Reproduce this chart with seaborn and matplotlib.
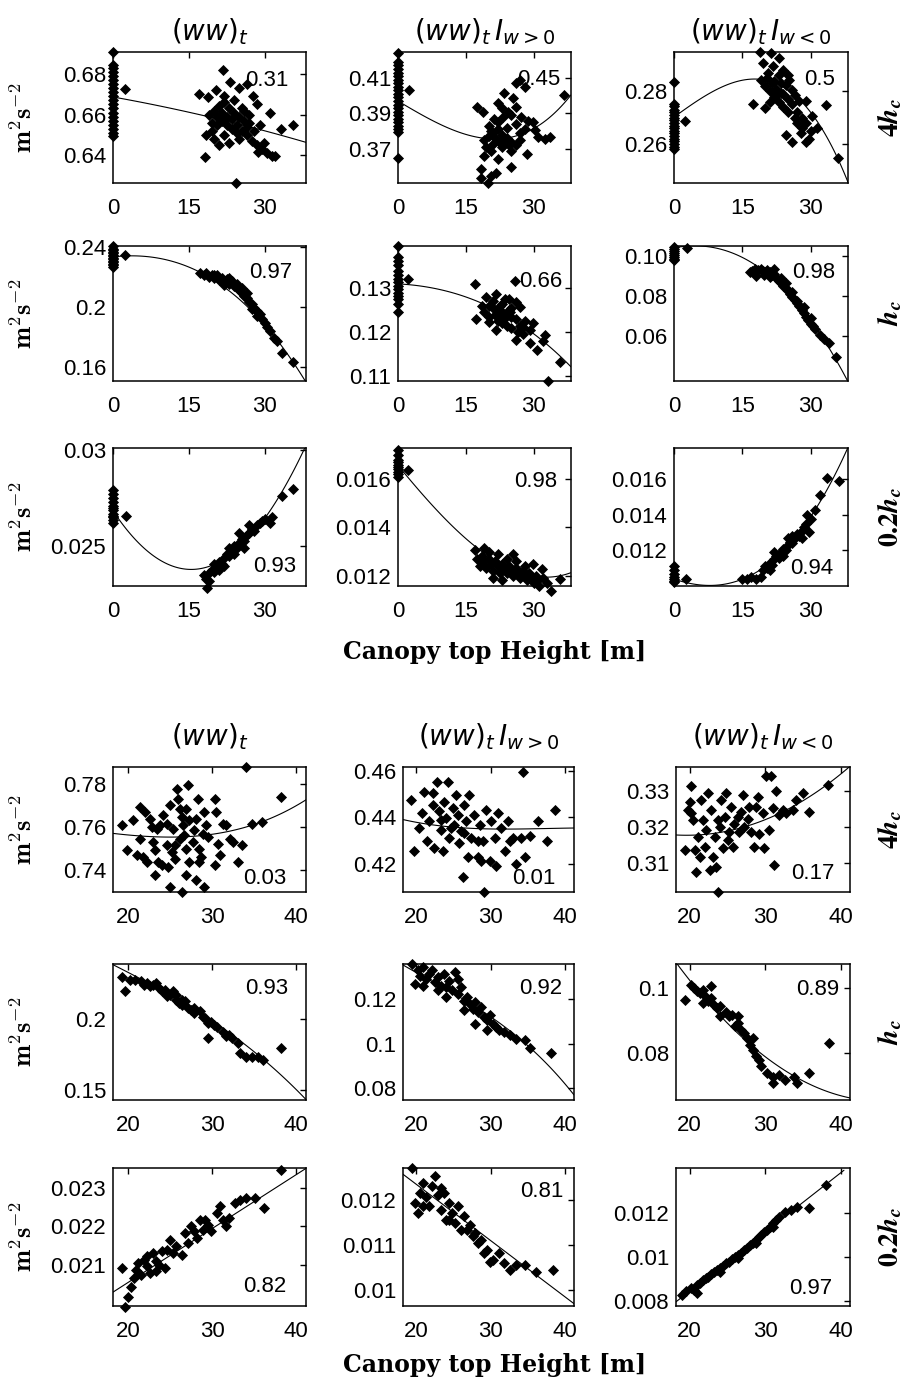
"""
Canopy-top-height dependence of (ww)_t at three levels, two sites.
18 small scatter panels with fitted curves.
"""

import matplotlib
matplotlib.use("Agg")
import matplotlib.pyplot as plt
import seaborn as sns
import pandas as pd

# ---------------------------------------------------------------------
# data: (canopy top height [m], value [m2 s-2])
# up_* = upper block (with zero-height points), lo_* = lower block
# ww = (ww)_t, wp = (ww)_t I_w>0, wn = (ww)_t I_w<0
# 4h / h / 02h = measurement level 4hc, hc, 0.2hc
# *_fit = points read along the fitted curve
# ---------------------------------------------------------------------

up_ww_4h = [(0, 0.691), (0, 0.6845), (0, 0.683), (0, 0.681), (0, 0.679), (0, 0.677), (0, 0.675),
            (0, 0.673), (0, 0.671), (0, 0.669), (0, 0.667), (0, 0.665), (0, 0.663), (0, 0.661),
            (0, 0.659), (0, 0.657), (0, 0.655), (0, 0.653), (0, 0.651), (0, 0.6495), (2.4, 0.6726),
            (21.7, 0.682), (23.2, 0.676), (26.5, 0.675), (24.9, 0.673), (17.1, 0.670), (18.9, 0.6685),
            (20.4, 0.672), (27.7, 0.669), (31.0, 0.661), (28.5, 0.665), (35.7, 0.655), (33.3, 0.653),
            (19, 0.660), (20, 0.662), (21, 0.664), (22, 0.666), (23, 0.663), (24, 0.661), (25, 0.659),
            (26, 0.657), (27, 0.656), (22.5, 0.659), (21.5, 0.657), (20.5, 0.655), (19.5, 0.652),
            (18.5, 0.650), (20, 0.648), (22, 0.650), (23.5, 0.653), (24.5, 0.655), (25.5, 0.652),
            (26.5, 0.650), (27.5, 0.647), (28.5, 0.645), (29.5, 0.643), (30.5, 0.641), (21, 0.645),
            (23, 0.646), (25, 0.648), (26, 0.662), (27, 0.660), (24, 0.667), (22, 0.669), (28, 0.652),
            (29, 0.655), (18.3, 0.639), (28.7, 0.6415), (31.5, 0.6395), (32.1, 0.6395), (29.9, 0.6458),
            (24.4, 0.6262), (21.5, 0.661), (23.5, 0.658), (20.5, 0.659), (22.5, 0.655), (24.5, 0.651),
            (26.5, 0.654), (19.5, 0.656), (25.5, 0.663)]
up_ww_4h_fit = [(0, 0.6686), (10, 0.664), (19, 0.659), (28, 0.653), (38.2, 0.6464)]

up_wp_4h = [(0, 0.4243), (0, 0.419), (0, 0.417), (0, 0.415), (0, 0.413), (0, 0.411), (0, 0.409),
            (0, 0.407), (0, 0.405), (0, 0.403), (0, 0.401), (0, 0.399), (0, 0.397), (0, 0.395),
            (0, 0.393), (0, 0.391), (0, 0.389), (0, 0.387), (0, 0.385), (0, 0.383), (0, 0.381),
            (0, 0.3795), (0, 0.365), (2.5, 0.403),
            (17.5, 0.3938), (18.7, 0.391), (21.3, 0.387), (22.0, 0.3957), (23.5, 0.4014), (26.1, 0.4071),
            (26.9, 0.409), (28.0, 0.405), (25.4, 0.3986), (26.1, 0.3938), (23.1, 0.388), (24.3, 0.391),
            (27.2, 0.388), (28.7, 0.386), (29.9, 0.385), (31.0, 0.3767), (32.5, 0.3757), (33.6, 0.3767),
            (36.6, 0.4005), (30.2, 0.3805), (20.5, 0.369), (19.0, 0.366), (18.3, 0.3586), (21.6, 0.3567),
            (20.5, 0.3548), (18.3, 0.3538), (19.8, 0.351), (25.0, 0.360), (28.4, 0.3671), (22.0, 0.3643),
            (22.8, 0.3729), (19, 0.375), (20, 0.377), (21, 0.379), (22, 0.381), (23, 0.378), (24, 0.376),
            (25, 0.374), (26, 0.372), (27, 0.375), (21, 0.373), (23, 0.371), (25, 0.369), (24, 0.382),
            (26, 0.384), (22, 0.385), (20, 0.383), (19.5, 0.371), (27, 0.379), (28, 0.381), (25, 0.389),
            (23, 0.393), (21.5, 0.376), (22.5, 0.374), (23.5, 0.375), (24.5, 0.372), (20.5, 0.380)]
up_wp_4h_fit = [(0, 0.3967), (5, 0.390), (10, 0.3833), (15, 0.3776), (20, 0.3757), (25, 0.3767),
                (30, 0.3814), (35, 0.3919), (38.2, 0.4000)]

up_wn_4h = [(0, 0.2835), (0, 0.2752), (0, 0.2745), (0, 0.273), (0, 0.272), (0, 0.271), (0, 0.270),
            (0, 0.269), (0, 0.268), (0, 0.267), (0, 0.266), (0, 0.265), (0, 0.264), (0, 0.263),
            (0, 0.262), (0, 0.261), (0, 0.260), (0, 0.259), (0, 0.258), (2.4, 0.2688),
            (18.8, 0.2949), (21.3, 0.2946), (23.1, 0.2927), (19.5, 0.2907), (21.7, 0.2894), (20.6, 0.2868),
            (19.1, 0.2842), (17.3, 0.2750), (19.9, 0.2737), (25.3, 0.2842), (26.0, 0.2803), (27.5, 0.2763),
            (29.0, 0.2763), (33.3, 0.2748), (30.4, 0.2705), (31.5, 0.2659), (35.9, 0.2548), (24.6, 0.2633),
            (26.0, 0.2607), (29.0, 0.2607), (29.7, 0.262), (27.9, 0.264), (20, 0.282), (21, 0.280),
            (22, 0.278), (23, 0.276), (24, 0.274), (25, 0.272), (22, 0.284), (23, 0.286), (24, 0.288),
            (21, 0.276), (22.5, 0.281), (24, 0.279), (25, 0.277), (26, 0.275), (26.5, 0.270), (27, 0.268),
            (28, 0.266), (23.5, 0.283), (20.5, 0.285), (25, 0.286), (27, 0.272), (28, 0.270), (29, 0.268),
            (30, 0.265), (21.5, 0.283), (22.5, 0.2785), (23.5, 0.2795), (24.5, 0.2825), (26.5, 0.2785)]
up_wn_4h_fit = [(0, 0.2692), (3, 0.2745), (6, 0.2785), (10, 0.2816), (14, 0.2833), (18, 0.2836),
                (22, 0.2825), (26, 0.2795), (30, 0.2728), (33, 0.2655), (36, 0.2535), (38.2, 0.2452)]

up_ww_h = [(0, 0.2405), (0, 0.239), (0, 0.238), (0, 0.237), (0, 0.236), (0, 0.235), (0, 0.234),
           (0, 0.233), (0, 0.232), (0, 0.231), (0, 0.230), (0, 0.229), (0, 0.228), (0, 0.227),
           (2.4, 0.2347), (17.3, 0.2225), (18, 0.221), (18.5, 0.2225), (19, 0.220), (19.5, 0.2215),
           (20, 0.2195), (20.5, 0.221), (21, 0.218), (21.5, 0.2195), (22, 0.217), (22.5, 0.2185),
           (23, 0.2155), (23.5, 0.217), (24, 0.214), (24.5, 0.2125), (25, 0.211), (25.5, 0.209),
           (26, 0.2075), (26.5, 0.206), (27, 0.2035), (27.5, 0.202), (28, 0.1995), (28.5, 0.1975),
           (29, 0.195), (29.5, 0.192), (30, 0.1895), (30.4, 0.1865), (31, 0.184), (31.8, 0.1795),
           (32.5, 0.1775), (33.4, 0.1690), (35.7, 0.1635), (24.5, 0.2155), (25.5, 0.2125), (26.5, 0.2095),
           (22, 0.2145), (27.5, 0.1985), (28.5, 0.194), (20, 0.2215), (23, 0.219)]
up_ww_h_fit = [(0, 0.234), (5, 0.2335), (10, 0.231), (15, 0.2265), (20, 0.219), (25, 0.207),
               (30, 0.1860), (35, 0.1650), (38.2, 0.1510)]

up_wp_h = [(0, 0.1396), (0, 0.1372), (0, 0.1362), (0, 0.1352), (0, 0.1340), (0, 0.1330), (0, 0.1322),
           (0, 0.1315), (0, 0.1305), (0, 0.1298), (0, 0.1290), (0, 0.1282), (0, 0.1275), (0, 0.1265),
           (0, 0.1246), (2.3, 0.1321), (17.1, 0.131), (25.8, 0.1316), (17.3, 0.1231), (19.5, 0.128),
           (21.7, 0.1287), (23.6, 0.1276), (26.1, 0.1269), (26.9, 0.1257), (24.7, 0.1246), (22.4, 0.1235),
           (20.2, 0.1224), (21.7, 0.1205), (26.1, 0.1182), (27.6, 0.1212), (29.1, 0.1205), (29.9, 0.122),
           (32.1, 0.1179), (32.4, 0.1194), (30.6, 0.116), (29.1, 0.1175), (35.8, 0.1132), (33.2, 0.1089),
           (20, 0.126), (21, 0.1255), (22, 0.125), (23, 0.1245), (24, 0.124), (25, 0.1235), (26, 0.123),
           (22, 0.1225), (23, 0.122), (24, 0.1215), (25, 0.121), (26.5, 0.120), (27, 0.1215), (28, 0.1225),
           (27.5, 0.1195), (21, 0.127), (23, 0.1265), (25, 0.1255), (24.5, 0.1275), (19, 0.1245),
           (20, 0.1235), (18.5, 0.126), (21.5, 0.1240), (22.5, 0.1260), (23.5, 0.1230), (24.5, 0.1250)]
up_wp_h_fit = [(0, 0.1311), (10, 0.1291), (18, 0.1269), (22, 0.1254), (26, 0.1227), (30, 0.119),
               (34, 0.116), (38.2, 0.1124)]

up_wn_h = [(0, 0.1045), (0, 0.1035), (0, 0.1025), (0, 0.1015), (0, 0.1005), (0, 0.0995), (0, 0.0985),
           (0, 0.0978), (2.8, 0.1041), (16.6, 0.0918), (17.2, 0.0925), (17.8, 0.0932), (18.4, 0.0928),
           (19, 0.0935), (19.5, 0.0925), (20, 0.0918), (20.5, 0.0928), (21, 0.092), (21.5, 0.0905),
           (22, 0.091), (22.5, 0.089), (23, 0.0875), (23.5, 0.0865), (24, 0.085), (24.5, 0.084),
           (25, 0.0825), (25.5, 0.081), (26, 0.0795), (26.5, 0.078), (27, 0.0765), (27.5, 0.075),
           (28, 0.073), (28.5, 0.0715), (29, 0.0695), (29.5, 0.068), (30, 0.066), (30.5, 0.065),
           (31, 0.0635), (32, 0.0605), (33, 0.0585), (34, 0.0565), (35.6, 0.0495), (19.8, 0.0905),
           (21, 0.0895), (22, 0.0935), (18, 0.090), (23.5, 0.089), (24.5, 0.0865), (26, 0.082),
           (27, 0.0775), (28.5, 0.0745), (30, 0.069)]
up_wn_h_fit = [(0, 0.1044), (5, 0.1042), (10.8, 0.1030), (15.9, 0.0980), (19.6, 0.0930), (23.2, 0.0865),
               (26.9, 0.0770), (29.8, 0.0675), (32.7, 0.0581), (35.6, 0.0482), (38.2, 0.0375)]

up_ww_02h = [(0, 0.0279), (0, 0.0277), (0, 0.0275), (0, 0.0273), (0, 0.0271), (0, 0.0269), (0, 0.0267),
             (0, 0.0265), (0, 0.02635), (0, 0.0262), (0, 0.0270), (0, 0.0266), (2.5, 0.0266),
             (18, 0.0235), (18.5, 0.0233), (19, 0.0236), (19.5, 0.0238), (20, 0.0237), (20.5, 0.0240),
             (21, 0.0242), (21.5, 0.0241), (22, 0.0244), (22.5, 0.0246), (23, 0.0245), (23.5, 0.0248),
             (24, 0.0250), (24.5, 0.0249), (25, 0.0252), (25.5, 0.0254), (26, 0.0253), (26.5, 0.0256),
             (27, 0.0257), (27.5, 0.0259), (28, 0.0258), (28.5, 0.0261), (29, 0.0262), (29.5, 0.0263),
             (30, 0.0264), (22, 0.0240), (23, 0.0249), (24, 0.0246), (25, 0.0257), (26, 0.0249),
             (27, 0.0261), (21, 0.0238), (20, 0.0241), (19, 0.0232), (18.7, 0.02285), (31.4, 0.0265),
             (33.5, 0.0276), (35.7, 0.02795), (31, 0.0262)]
up_ww_02h_fit = [(0, 0.0266), (2.1, 0.0262), (5.4, 0.0253), (8.8, 0.02455), (12.1, 0.0240), (15.4, 0.02366),
                 (18.1, 0.02362), (20, 0.0239), (25, 0.0251), (30, 0.02652), (33, 0.02786), (36, 0.02902),
                 (38.2, 0.0301)]

up_wp_02h = [(0, 0.0172), (0, 0.0170), (0, 0.0168), (0, 0.0167), (0, 0.0166), (0, 0.0165), (0, 0.0164),
             (0, 0.0163), (0, 0.0162), (0, 0.0161), (2.2, 0.01636), (17.1, 0.01307), (18.9, 0.01314),
             (25.4, 0.0129), (29.7, 0.0125), (31.9, 0.01229), (35.8, 0.01186), (33.7, 0.01136),
             (31.2, 0.01157), (17.5, 0.0127), (18, 0.0124), (18.5, 0.0128), (19, 0.0126), (19.5, 0.0123),
             (20, 0.0127), (20.5, 0.0125), (21, 0.0122), (21.5, 0.0126), (22, 0.0124), (22.5, 0.0121),
             (23, 0.0125), (23.5, 0.0123), (24, 0.0121), (24.5, 0.0124), (25, 0.0122), (25.5, 0.0120),
             (26, 0.0123), (26.5, 0.0121), (27, 0.0119), (27.5, 0.0122), (28, 0.0120), (28.5, 0.0118),
             (29, 0.0121), (29.5, 0.0119), (30, 0.0117), (30.5, 0.0120), (31, 0.0118), (32, 0.0119),
             (33, 0.0117), (22, 0.0129), (24, 0.0127), (26, 0.0126), (20, 0.0130), (28, 0.0124),
             (21, 0.0119), (23, 0.0118)]
up_wp_02h_fit = [(0, 0.0165), (5, 0.01557), (10, 0.0145), (15, 0.01343), (20, 0.01271), (25, 0.01229),
                 (30, 0.01203), (33, 0.0120), (38.2, 0.01207)]

up_wn_02h = [(0, 0.0111), (0, 0.0109), (0, 0.0107), (0, 0.0105), (0, 0.0104), (0, 0.0103), (0, 0.0102),
             (2.6, 0.01042), (15, 0.0104), (16, 0.0104), (17, 0.0105), (18, 0.0104), (19, 0.0105),
             (19.5, 0.0109), (20, 0.0111), (20.5, 0.0110), (21, 0.0113), (21.5, 0.0112), (22, 0.0115),
             (22.5, 0.0117), (23, 0.0116), (23.5, 0.0119), (24, 0.0121), (24.5, 0.0120), (25, 0.0123),
             (25.5, 0.0125), (26, 0.0124), (26.5, 0.0127), (27, 0.0129), (27.5, 0.0128), (28, 0.0131),
             (28.5, 0.0133), (29, 0.0135), (29.6, 0.01305), (29.2, 0.0140), (30, 0.0138), (31, 0.0143),
             (32.1, 0.0151), (33.6, 0.0161), (36.2, 0.0159), (22, 0.0119), (24, 0.0117), (26, 0.0128),
             (28, 0.0127), (21, 0.0109), (25, 0.0127)]
up_wn_02h_fit = [(0, 0.01038), (5, 0.0101), (8, 0.01004), (12, 0.01015), (15, 0.01038), (20, 0.01105),
                 (25, 0.01229), (30, 0.0139), (35, 0.0161), (38.2, 0.01780)]

lo_ww_4h = [(19.25, 0.7608), (19.84, 0.7492), (20.55, 0.7631), (21.42, 0.7692), (21.42, 0.7546),
            (21.03, 0.7469), (21.81, 0.7462), (22.21, 0.7438), (22.01, 0.7669), (22.6, 0.7638),
            (22.8, 0.760), (23.0, 0.7531), (23.2, 0.7492), (23.4, 0.7592), (23.8, 0.7608), (23.6, 0.7438),
            (24.0, 0.7423), (24.2, 0.7654), (24.6, 0.7615), (24.6, 0.7515), (25.0, 0.770), (25.2, 0.7485),
            (25.4, 0.7592), (25.6, 0.7454), (25.8, 0.7777), (26.0, 0.7731), (26.2, 0.7685), (26.4, 0.7646),
            (26.5, 0.7608), (26.9, 0.7685), (26.7, 0.7562), (26.9, 0.750), (27.1, 0.7792), (27.3, 0.7631),
            (27.3, 0.7438), (27.7, 0.7531), (27.9, 0.7585), (28.1, 0.7638), (28.3, 0.7731), (28.5, 0.750),
            (28.5, 0.7438), (28.7, 0.7462), (28.9, 0.7569), (29.1, 0.7669), (29.3, 0.7608), (29.5, 0.7554),
            (30.3, 0.7731), (30.5, 0.7669), (30.7, 0.7523), (30.9, 0.7469), (31.3, 0.7615), (31.7, 0.7608),
            (32.1, 0.7546), (32.5, 0.7531), (33.1, 0.7438), (33.6, 0.7515), (34.0, 0.7877), (34.8, 0.7615),
            (36.0, 0.7623), (38.2, 0.7738), (23.2, 0.7377), (25.0, 0.7323), (26.4, 0.730), (26.9, 0.7377),
            (28.1, 0.7354), (29.1, 0.7323), (30.3, 0.7423), (24.8, 0.7415), (25.6, 0.7515), (26.2, 0.7546)]
lo_ww_4h_fit = [(18.2, 0.7569), (21, 0.7562), (24, 0.7556), (27, 0.7554), (30, 0.7562), (32.5, 0.7585),
                (35, 0.7615), (37.5, 0.7648), (41.2, 0.7725)]

lo_wp_4h = [(19.23, 0.4474), (19.68, 0.4257), (20.36, 0.4355), (20.81, 0.4418), (21.04, 0.4510),
            (21.49, 0.4299), (21.72, 0.4383), (22.17, 0.4502), (22.17, 0.4453), (22.39, 0.4271),
            (22.84, 0.4552), (23.07, 0.4425), (23.30, 0.4348), (23.52, 0.4257), (23.75, 0.4467),
            (23.97, 0.4397), (24.20, 0.4552), (24.42, 0.4313), (24.88, 0.4439), (25.10, 0.4369),
            (25.33, 0.4495), (25.55, 0.4411), (25.78, 0.4292), (26.00, 0.4341), (26.46, 0.4453),
            (26.68, 0.4383), (26.91, 0.4229), (27.13, 0.4495), (27.36, 0.4313), (27.81, 0.4411),
            (28.26, 0.4229), (28.49, 0.4369), (28.71, 0.4215), (28.94, 0.4299), (29.39, 0.4432),
            (29.84, 0.4215), (30.07, 0.4383), (30.52, 0.4313), (30.97, 0.4418), (31.42, 0.4355),
            (31.87, 0.4257), (32.33, 0.4383), (32.55, 0.4299), (33.0, 0.4313), (33.45, 0.4201),
            (34.13, 0.4313), (34.36, 0.4594), (35.26, 0.4320), (36.39, 0.4383), (37.52, 0.4299),
            (38.65, 0.4432), (26.23, 0.4144), (29.16, 0.4081), (30.75, 0.4194), (34.58, 0.4229),
            (28.26, 0.4299), (24.65, 0.4355), (26.46, 0.4334), (23.30, 0.4390)]
lo_wp_4h_fit = [(18.2, 0.4390), (20, 0.4380), (22.5, 0.4366), (25, 0.4357), (28, 0.4352), (31, 0.4351),
                (34, 0.4351), (37, 0.4351), (39.3, 0.4351), (39.6, 0.4355), (41.2, 0.4355)]

lo_wn_4h = [(19.34, 0.3135), (19.78, 0.3247), (20.0, 0.3270), (20.22, 0.3312), (20.44, 0.3219),
            (20.88, 0.3074), (21.10, 0.3172), (21.32, 0.3116), (21.54, 0.3274), (21.76, 0.3219),
            (21.98, 0.3144), (22.2, 0.3191), (22.42, 0.3293), (22.64, 0.3079), (22.86, 0.3247),
            (23.08, 0.3116), (23.30, 0.3172), (23.52, 0.3088), (23.74, 0.3219), (23.96, 0.320),
            (24.18, 0.3274), (24.40, 0.3140), (24.62, 0.3228), (24.84, 0.3293), (25.05, 0.3163),
            (25.27, 0.3186), (25.49, 0.3256), (25.71, 0.3144), (25.93, 0.3209), (26.37, 0.3228),
            (26.59, 0.3186), (26.81, 0.3242), (27.03, 0.3288), (27.25, 0.320), (27.69, 0.3223),
            (27.91, 0.3256), (28.13, 0.3186), (28.57, 0.3144), (28.79, 0.3256), (29.01, 0.3284),
            (29.23, 0.3181), (29.67, 0.3237), (29.89, 0.3140), (30.11, 0.3340), (30.55, 0.3191),
            (30.77, 0.3340), (30.99, 0.3251), (31.21, 0.3093), (31.43, 0.3298), (31.87, 0.3233),
            (32.31, 0.3247), (32.75, 0.3237), (33.63, 0.3247), (34.07, 0.3274), (34.95, 0.3293),
            (35.82, 0.3242), (38.24, 0.3316), (23.74, 0.3019), (20.22, 0.3237), (20.66, 0.3135)]
lo_wn_4h_fit = [(18.2, 0.3177), (21, 0.3178), (24, 0.3184), (27, 0.3198), (30, 0.3220), (33, 0.3249),
                (36, 0.3286), (38.5, 0.3322), (41.2, 0.3368)]

lo_ww_h = [(19.33, 0.2293), (19.61, 0.2197), (20.17, 0.2274), (20.86, 0.2270), (21.56, 0.2263),
           (22.25, 0.2251), (22.60, 0.2228), (22.95, 0.2239), (23.65, 0.2216), (24.0, 0.2192),
           (24.35, 0.2204), (25.04, 0.2169), (25.39, 0.2192), (25.74, 0.2134), (26.08, 0.2110),
           (26.43, 0.2099), (26.78, 0.2122), (27.13, 0.2075), (27.47, 0.2063), (27.82, 0.2040),
           (28.52, 0.2052), (28.87, 0.2016), (29.22, 0.2005), (29.57, 0.1864), (29.91, 0.1981),
           (30.26, 0.1958), (30.61, 0.1946), (31.30, 0.1911), (32.0, 0.1887), (32.35, 0.1864),
           (33.04, 0.1829), (33.39, 0.1758), (34.09, 0.1735), (34.78, 0.1735), (35.48, 0.1735),
           (36.03, 0.1711), (38.26, 0.1793), (24.69, 0.2157), (25.74, 0.2169), (27.82, 0.2075),
           (26.43, 0.2134), (29.57, 0.1969), (31.65, 0.1876), (23.30, 0.2251), (21.91, 0.2239)]
lo_ww_h_fit = [(18.2, 0.2378), (22, 0.2265), (26, 0.2145), (30, 0.1975), (33, 0.1850), (35.5, 0.1750),
               (38.3, 0.1617), (41.2, 0.1425)]

lo_wp_h = [(19.38, 0.1355), (19.77, 0.1266), (20.16, 0.1326), (20.54, 0.1303), (20.93, 0.1340),
           (21.32, 0.1289), (21.71, 0.1311), (22.10, 0.1326), (22.49, 0.1274), (22.88, 0.1296),
           (23.27, 0.1259), (23.66, 0.1311), (24.05, 0.1252), (24.44, 0.1281), (24.82, 0.1237),
           (25.21, 0.1318), (25.60, 0.1222), (25.99, 0.1252), (26.38, 0.1192), (26.77, 0.1207),
           (27.16, 0.1178), (27.55, 0.1155), (27.94, 0.1185), (28.33, 0.1141), (28.72, 0.1163),
           (29.11, 0.1118), (29.49, 0.1104), (29.88, 0.1126), (30.27, 0.1089), (30.66, 0.1074),
           (31.05, 0.1059), (31.83, 0.1052), (32.61, 0.1037), (33.39, 0.1022), (34.55, 0.1015),
           (35.33, 0.0978), (38.05, 0.0956), (24.05, 0.1207), (25.60, 0.1289), (27.94, 0.1089),
           (29.49, 0.1059), (22.88, 0.1237), (20.93, 0.1259), (26.38, 0.1148)]
lo_wp_h_fit = [(18.2, 0.1345), (22, 0.1290), (26, 0.1210), (30, 0.1100), (33, 0.1040), (35.5, 0.0985),
               (38, 0.0905), (41.2, 0.0763)]

lo_wn_h = [(19.38, 0.0964), (20.16, 0.1010), (20.54, 0.1000), (20.93, 0.0990), (21.32, 0.0985),
           (21.71, 0.0995), (22.10, 0.0974), (22.49, 0.0959), (22.88, 0.0969), (23.27, 0.0949),
           (23.66, 0.0938), (24.05, 0.0944), (24.82, 0.0928), (25.21, 0.0913), (25.60, 0.0918),
           (26.38, 0.0892), (26.77, 0.0872), (27.16, 0.0861), (27.55, 0.0846), (27.94, 0.0826),
           (28.33, 0.0810), (28.72, 0.0790), (29.11, 0.0779), (29.49, 0.0759), (30.27, 0.0738),
           (31.05, 0.0728), (31.83, 0.0733), (32.61, 0.0718), (33.77, 0.0728), (35.72, 0.0738),
           (31.05, 0.0708), (34.16, 0.0708), (38.44, 0.0831), (21.71, 0.0954), (24.05, 0.0913),
           (26.38, 0.0913), (28.33, 0.0846), (22.88, 0.1005), (25.99, 0.0882)]
lo_wn_h_fit = [(18.0, 0.1074), (22, 0.0975), (25.6, 0.0905), (28.7, 0.0805), (31.8, 0.0738),
               (34.9, 0.0712), (38.1, 0.0690), (41.2, 0.0665)]

lo_ww_02h = [(19.33, 0.02091), (19.61, 0.01991), (20.03, 0.02017), (20.31, 0.02043), (20.72, 0.02065),
             (21.00, 0.02087), (21.21, 0.02104), (21.56, 0.02074), (21.91, 0.02113), (22.25, 0.02096),
             (22.60, 0.02078), (22.95, 0.0213), (23.30, 0.02109), (23.65, 0.0210), (24.0, 0.02135),
             (24.34, 0.02091), (24.69, 0.02139), (25.04, 0.02165), (25.73, 0.02148), (26.43, 0.02126),
             (26.78, 0.02183), (27.13, 0.02157), (27.47, 0.0220), (27.82, 0.02187), (28.17, 0.0217),
             (28.52, 0.02217), (28.87, 0.02191), (29.57, 0.02204), (29.91, 0.02187), (30.61, 0.02235),
             (30.96, 0.02252), (31.30, 0.02217), (32.0, 0.02222), (32.70, 0.02261), (33.39, 0.0227),
             (34.09, 0.02274), (35.13, 0.02274), (36.18, 0.02248), (38.27, 0.02348), (22.25, 0.02122),
             (25.39, 0.0213), (29.22, 0.02217), (31.65, 0.0220), (23.30, 0.02083)]
lo_ww_02h_fit = [(18.2, 0.0203), (29.9, 0.02191), (41.2, 0.02352)]

lo_wp_02h = [(19.38, 0.0127), (19.77, 0.01193), (20.16, 0.0117), (20.54, 0.01215), (20.93, 0.01237),
             (21.32, 0.01207), (21.71, 0.01185), (22.10, 0.0123), (22.49, 0.01252), (22.88, 0.0121),
             (23.27, 0.01178), (23.66, 0.01215), (24.05, 0.01156), (24.44, 0.01193), (24.82, 0.0117),
             (25.21, 0.01148), (25.60, 0.01185), (26.38, 0.01163), (26.77, 0.01133), (27.16, 0.01144),
             (27.55, 0.01119), (27.94, 0.01126), (28.33, 0.01104), (28.72, 0.01111), (29.11, 0.01082),
             (29.49, 0.01089), (30.27, 0.01067), (31.05, 0.01082), (31.83, 0.01059), (32.61, 0.01045),
             (33.39, 0.01056), (34.55, 0.01056), (36.11, 0.01041), (38.44, 0.01045), (20.93, 0.01185),
             (23.27, 0.01226), (25.99, 0.01133), (29.88, 0.01063), (24.44, 0.01156)]
lo_wp_02h_fit = [(18.2, 0.01256), (29.5, 0.01116), (41.2, 0.0097)]

lo_wn_02h = [(18.99, 0.00826), (19.53, 0.00841), (20.16, 0.00857), (20.54, 0.00849), (20.93, 0.00872),
             (21.32, 0.00879), (21.71, 0.00894), (22.10, 0.00902), (22.49, 0.00909), (22.88, 0.00921),
             (23.27, 0.00928), (23.66, 0.0094), (24.05, 0.00947), (24.44, 0.00955), (24.82, 0.0097),
             (25.21, 0.00977), (25.60, 0.00988), (25.99, 0.0100), (26.38, 0.01008), (26.77, 0.01018),
             (27.16, 0.0103), (27.55, 0.01038), (27.94, 0.01053), (28.33, 0.01063), (28.72, 0.01076),
             (29.11, 0.01091), (29.49, 0.01098), (29.88, 0.01113), (30.27, 0.01121), (30.66, 0.01136),
             (31.05, 0.01151), (31.44, 0.01166), (31.83, 0.01181), (32.61, 0.01204), (33.39, 0.01211),
             (34.16, 0.01227), (35.72, 0.01223), (38.05, 0.01325), (20.93, 0.00834), (24.05, 0.00932),
             (26.38, 0.00992), (28.72, 0.0106), (31.05, 0.01136)]
lo_wn_02h_fit = [(18.0, 0.00789), (29.2, 0.0109), (40.4, 0.01393)]

# correlation coefficients printed in each panel
r_values = ["0.31", "0.45", "0.5", "0.97", "0.66", "0.98", "0.93", "0.98", "0.94",
            "0.03", "0.01", "0.17", "0.93", "0.92", "0.89", "0.82", "0.81", "0.97"]

titles = [r"$(ww)_t$", r"$(ww)_t\,I_{w>0}$", r"$(ww)_t\,I_{w<0}$"]
level_labels = [r"$\mathbf{4}\mathbfit{h}_\mathbfit{c}$", r"$\mathbfit{h}_\mathbfit{c}$",
                r"$\mathbf{0.2}\mathbfit{h}_\mathbfit{c}$"]

# ---------------------------------------------------------------------
# per-panel axis setup: ylim, y ticks, y tick labels, r-text position,
# polynomial order of the drawn fit
# ---------------------------------------------------------------------
panels = [
    (up_ww_4h, up_ww_4h_fit, (0.6262, 0.6909), [0.64, 0.66, 0.68], ["0.64", "0.66", "0.68"], (0.91, 0.78), 2),
    (up_wp_4h, up_wp_4h_fit, (0.3508, 0.4246), [0.37, 0.39, 0.41], ["0.37", "0.39", "0.41"], (0.94, 0.79), 3),
    (up_wn_4h, up_wn_4h_fit, (0.2452, 0.2949), [0.26, 0.28], ["0.26", "0.28"], (0.925, 0.79), 3),
    (up_ww_h, up_ww_h_fit, (0.1505, 0.2407), [0.16, 0.2, 0.24], ["0.16", "0.2", "0.24"], (0.93, 0.80), 3),
    (up_wp_h, up_wp_h_fit, (0.1089, 0.1396), [0.11, 0.12, 0.13], ["0.11", "0.12", "0.13"], (0.95, 0.74), 3),
    (up_wn_h, up_wn_h_fit, (0.0375, 0.1049), [0.06, 0.08, 0.10], ["0.06", "0.08", "0.10"], (0.925, 0.80), 3),
    (up_ww_02h, up_ww_02h_fit, (0.02295, 0.0301), [0.025, 0.03], ["0.025", "0.03"], (0.95, 0.14), 3),
    (up_wp_02h, up_wp_02h_fit, (0.01157, 0.01729), [0.012, 0.014, 0.016], ["0.012", "0.014", "0.016"], (0.92, 0.76), 3),
    (up_wn_02h, up_wn_02h_fit, (0.0100, 0.01777), [0.012, 0.014, 0.016], ["0.012", "0.014", "0.016"], (0.915, 0.13), 3),
    (lo_ww_4h, lo_ww_4h_fit, (0.7300, 0.7877), [0.74, 0.76, 0.78], ["0.74", "0.76", "0.78"], (0.90, 0.11), 3),
    (lo_wp_4h, lo_wp_4h_fit, (0.4081, 0.4615), [0.42, 0.44, 0.46], ["0.42", "0.44", "0.46"], (0.89, 0.11), 3),
    (lo_wn_4h, lo_wn_4h_fit, (0.3019, 0.3366), [0.31, 0.32, 0.33], ["0.31", "0.32", "0.33"], (0.91, 0.15), 3),
    (lo_ww_h, lo_ww_h_fit, (0.1430, 0.2385), [0.15, 0.2], ["0.15", "0.2"], (0.91, 0.82), 3),
    (lo_wp_h, lo_wp_h_fit, (0.0748, 0.1355), [0.08, 0.1, 0.12], ["0.08", "0.1", "0.12"], (0.93, 0.82), 3),
    (lo_wn_h, lo_wn_h_fit, (0.0656, 0.1074), [0.08, 0.1], ["0.08", "0.1"], (0.94, 0.81), 2),
    (lo_ww_02h, lo_ww_02h_fit, (0.01993, 0.02352), [0.021, 0.022, 0.023], ["0.021", "0.022", "0.023"], (0.90, 0.14), 1),
    (lo_wp_02h, lo_wp_02h_fit, (0.00965, 0.0127), [0.01, 0.011, 0.012], ["0.01", "0.011", "0.012"], (0.94, 0.83), 1),
    (lo_wn_02h, lo_wn_02h_fit, (0.00775, 0.01403), [0.008, 0.01, 0.012], ["0.008", "0.01", "0.012"], (0.90, 0.13), 1),
]

# ---------------------------------------------------------------------
# layout in pixels of the 918 x 1384 canvas
# ---------------------------------------------------------------------
W, H = 918, 1384
up_cols = [(113, 306), (398, 571), (674, 848)]
up_rows = [(52, 183), (246, 381), (448, 586)]
lo_cols = [(113, 306), (403, 574), (676, 850)]
lo_rows = [(767, 892), (964, 1100), (1168, 1306)]


def frac_rect(l, t, r, b):
    return [l / W, 1 - b / H, (r - l) / W, (b - t) / H]


boxes = []
for rows, cols, block in [(up_rows, up_cols, "up"), (lo_rows, lo_cols, "lo")]:
    for (t, b) in rows:
        for (l, r) in cols:
            boxes.append((block, frac_rect(l, t, r, b)))

sns.set_style("white")
plt.rcParams["font.family"] = ["Liberation Sans", "DejaVu Sans"]
plt.rcParams["text.color"] = "black"
plt.rcParams["axes.labelcolor"] = "black"
plt.rcParams["xtick.color"] = "black"
plt.rcParams["ytick.color"] = "black"
plt.rcParams["axes.edgecolor"] = "black"
plt.rcParams["axes.linewidth"] = 1.1

fig = plt.figure(figsize=(W / 100, H / 100), dpi=100)

for i, ((pts, fit, ylim, yt, ytl, rpos, order), (block, rect)) in enumerate(zip(panels, boxes)):
    ax = fig.add_axes(rect)
    df = pd.DataFrame(pts, columns=["height", "value"])
    fit_df = pd.DataFrame(fit, columns=["height", "value"])
    xlim = (0, 38.2) if block == "up" else (18.2, 41.2)

    ax.set_xlim(*xlim)
    ax.set_ylim(*ylim)

    # smooth least-squares curve through the samples read along the fit
    sns.regplot(data=fit_df, x="height", y="value", ax=ax, order=order, ci=None,
                scatter=False, truncate=True,
                line_kws=dict(color="black", linewidth=0.8))
    sns.scatterplot(data=df, x="height", y="value", ax=ax, marker="D", s=32,
                    color="black", linewidth=0, clip_on=False, zorder=3)

    if block == "up":
        ax.set_xticks([0, 15, 30])
        ax.set_xticklabels(["0", "15", "30"])
    else:
        ax.set_xticks([20, 30, 40])
        ax.set_xticklabels(["20", "30", "40"])
    ax.set_xlim(*xlim)
    ax.set_ylim(*ylim)
    ax.set_yticks(yt)
    ax.set_yticklabels(ytl)
    ax.set_xlabel("")
    ax.set_ylabel("")
    ax.tick_params(direction="in", top=True, right=True, length=4, width=1,
                   labelsize=16, colors="black")
    ax.tick_params(axis="x", pad=11)
    ax.tick_params(axis="y", pad=5)
    for sp in ax.spines.values():
        sp.set_visible(True)
        sp.set_color("black")

    ax.text(rpos[0], rpos[1], r_values[i], transform=ax.transAxes,
            ha="right", va="center", fontsize=16)

# column titles
for cols, y in [(up_cols, 32), (lo_cols, 737)]:
    for (l, r), title in zip(cols, titles):
        fig.text((l + r) / 2 / W, 1 - y / H, title, ha="center", va="center", fontsize=20)

# row labels on both sides
for rows in [up_rows, lo_rows]:
    for (t, b), lab in zip(rows, level_labels):
        yc = 1 - (t + b) / 2 / H
        fig.text(890 / W, yc, lab, rotation=90, ha="center", va="center",
                 fontsize=20, math_fontfamily="stix")
        fig.text(24 / W, yc, r"$\mathbf{m^2s^{-2}}$", rotation=90, ha="center",
                 va="center", fontsize=19, math_fontfamily="cm")

# shared x labels
for y in [652, 1365]:
    fig.text(495 / W, 1 - y / H, "Canopy top Height [m]", ha="center", va="center",
             fontsize=17, family="DejaVu Serif", weight="bold")

fig.savefig("out.png", dpi=100)
